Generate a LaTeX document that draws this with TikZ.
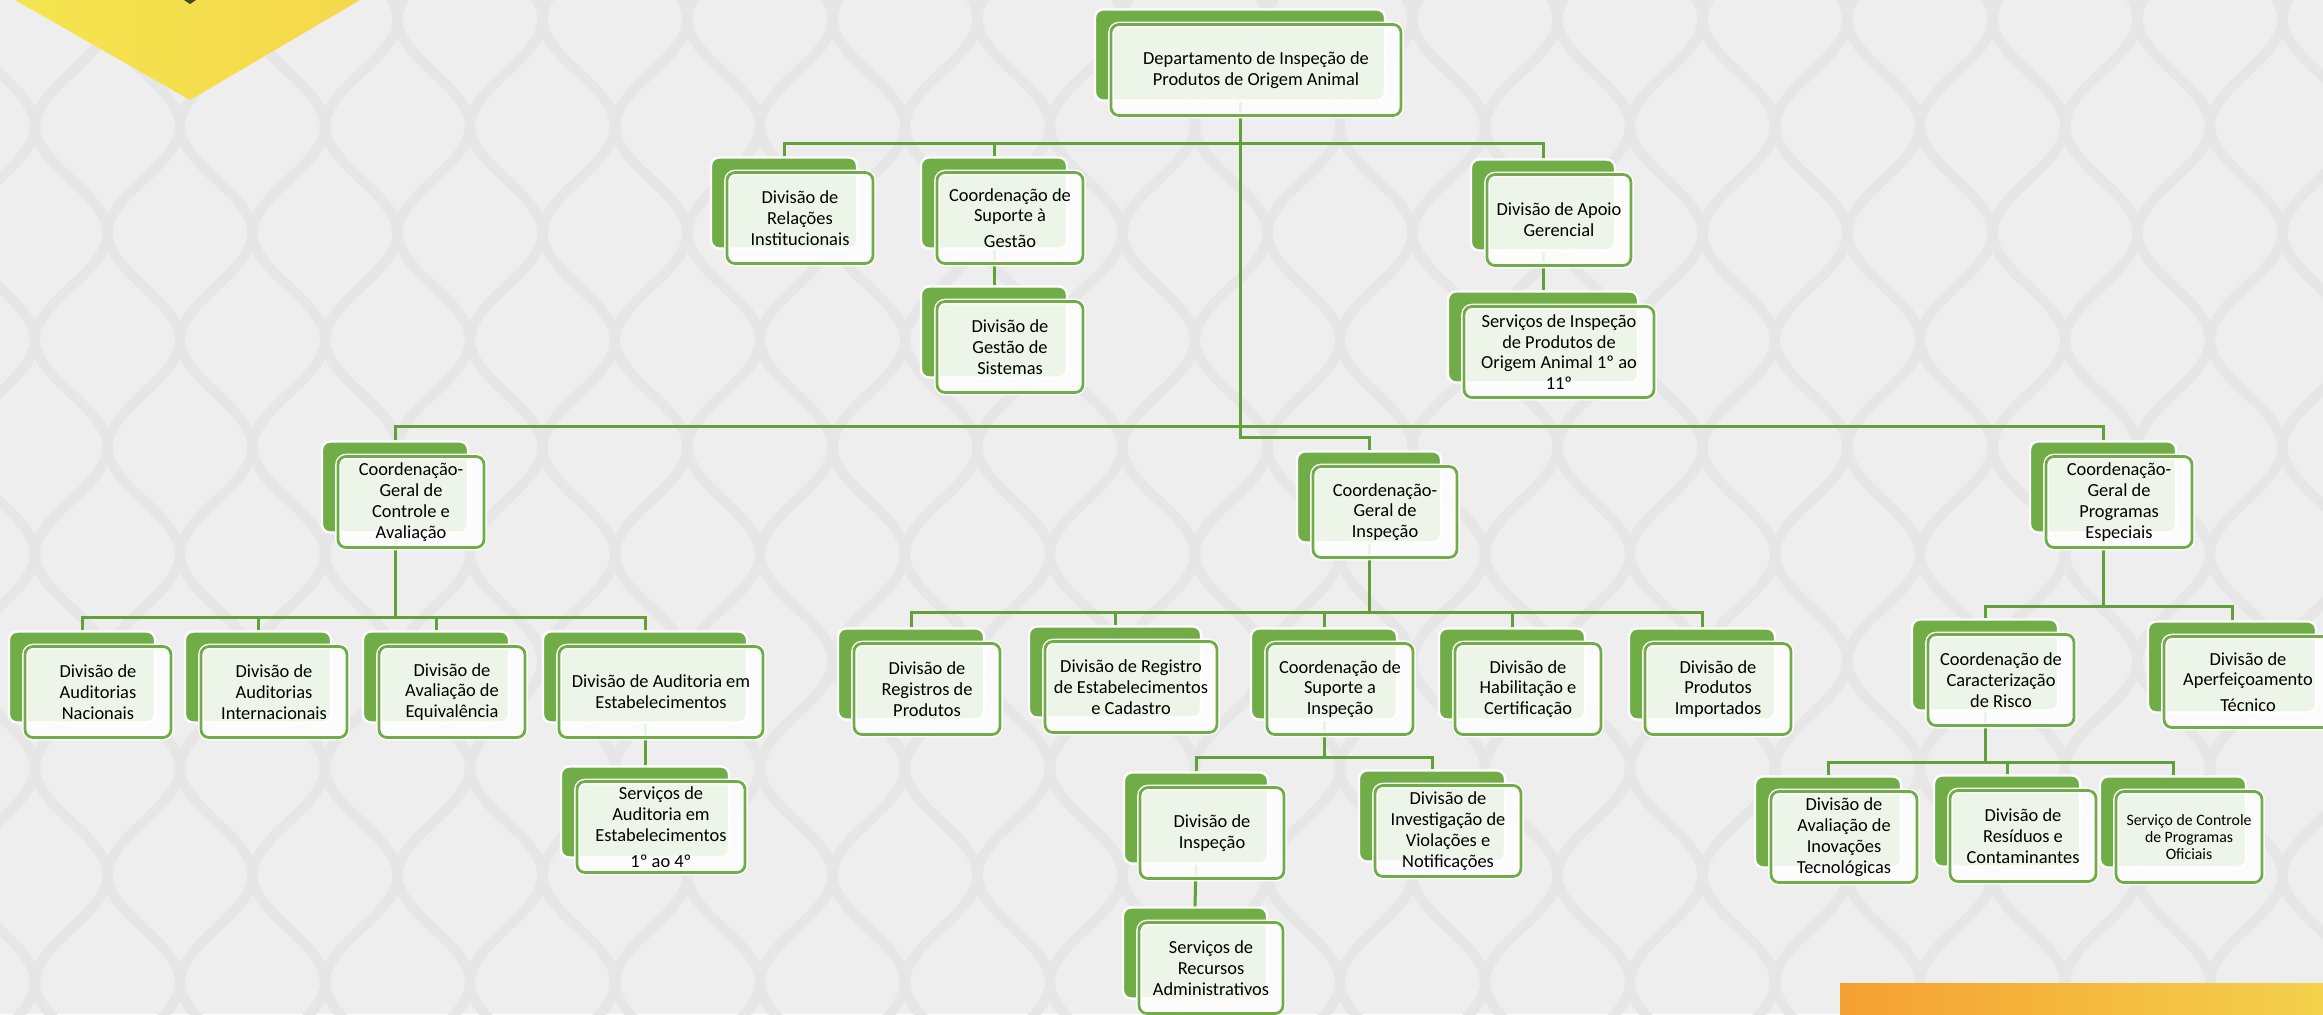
\documentclass[tikz,border=0pt]{standalone}
\usepackage{fontspec}
\setmainfont{Carlito}
\usepackage{tikz}

\definecolor{cardgreen}{HTML}{70AD47}
\definecolor{linkgreen}{HTML}{62A03A}
\definecolor{bggray}{HTML}{EEEEEE}
\definecolor{patgray}{HTML}{E6E6E6}
\definecolor{yellowA}{HTML}{F4E54E}
\definecolor{yellowB}{HTML}{F5D84C}
\definecolor{orangeA}{HTML}{F5A032}
\definecolor{orangeB}{HTML}{F4D24C}
\definecolor{logodark}{HTML}{3E4A18}

\begin{document}
\begin{tikzpicture}[x=0.5pt, y=-0.5pt]
\tikzset{
  back/.style={fill=cardgreen, draw=white, line width=1.2pt, rounded corners=4pt,
    minimum width=73pt, minimum height=45.5pt, inner sep=0pt},
  card/.style={draw=cardgreen, line width=1.4pt, rounded corners=4pt,
    fill=white, fill opacity=0.88, text opacity=1,
    preaction={draw=white, line width=2.8pt},
    minimum width=73pt, minimum height=45.5pt, inner sep=1pt, align=center,
    font=\fontsize{9.2}{10.4}\selectfont, text=black},
  small/.style={font=\fontsize{7.9}{8.7}\selectfont},
  link/.style={draw=linkgreen, line width=1.5pt},
  ogee/.style={draw=patgray, line width=5pt},
}

\useasboundingbox (0,0) rectangle (2323,1014);

% background
\begin{scope}
\clip (0,0) rectangle (2323,1014);
\fill [bggray] (0,0) rectangle (2323,1014);
\foreach \k in {-1,...,16} {
  \draw [ogee] plot [smooth, domain=-40:1060, samples=61, variable=\t]
    ({35+\k*145+36.25*(1+cos((\t-19)*1.6822))}, \t);
  \draw [ogee] plot [smooth, domain=-40:1060, samples=61, variable=\t]
    ({35+\k*145-36.25*(1+cos((\t-19)*1.6822))}, \t);
}
\shade [left color=yellowA, right color=yellowB] (15,0) -- (190,100) -- (360,0) -- cycle;
\fill [logodark] (184,0) -- (190,4) -- (196,0) -- cycle;
\shade [left color=orangeA, right color=orangeB] (1840,983) rectangle (2330,1020);
\end{scope}

% green backs
\node [back, minimum width=145pt] (dipoa-b) at (1240, 55) {};
\node [back] (drin-b) at ( 784,203) {};
\node [back] (csg-b)  at ( 994,203) {};
\node [back] (dgs-b)  at ( 994,332) {};
\node [back, minimum width=72pt] (dag-b) at (1543,205) {};
\node [back, minimum width=95pt] (sipoa-b) at (1543,337) {};

\node [back] (cgca-b) at ( 395,487) {};
\node [back, minimum width=72pt] (cgi-b) at (1369,497) {};
\node [back] (cgpe-b) at (2103,487) {};

\node [back] (dan-b)  at (  82,677) {};
\node [back] (dai-b)  at ( 258,677) {};
\node [back] (daeq-b) at ( 436,677) {};
\node [back, minimum width=102pt] (daue-b) at (645,677) {};
\node [back, minimum width=84pt] (saue-b) at (645,812) {};

\node [back] (drp-b)  at ( 911,674) {};
\node [back, minimum width=86pt] (drec-b) at (1115,672) {};
\node [back] (csi-b)  at (1324,674) {};
\node [back] (dhc-b)  at (1512,674) {};
\node [back] (dpi-b)  at (1702,674) {};
\node [back, minimum width=72pt] (dins-b) at (1196,818) {};
\node [back] (divn-b) at (1432,816) {};
\node [back, minimum width=72pt] (sra-b) at (1195,953) {};

\node [back] (ccr-b)  at (1985,665) {};
\node [back, minimum width=84pt] (dat-b) at (2232,667) {};
\node [back] (dait-b) at (1828,822) {};
\node [back] (drc-b)  at (2007,821) {};
\node [back] (scpo-b) at (2173,822) {};

% bus levels
\coordinate (bus1)  at (0,143);
\coordinate (bus2)  at (0,426);
\coordinate (bus2i) at (0,437);
\coordinate (bus3a) at (0,617);
\coordinate (bus3b) at (0,612);
\coordinate (bus3c) at (0,606);
\coordinate (bus4a) at (0,757);
\coordinate (bus4b) at (0,762);

% connectors
\draw [link] (dipoa-b.south) -- (dipoa-b.south |- bus1) -| (drin-b.north);
\draw [link] (dipoa-b.south) -- (dipoa-b.south |- bus1) -| (csg-b.north);
\draw [link] (dipoa-b.south) -- (dipoa-b.south |- bus1) -| (dag-b.north);
\draw [link] (csg-b.south) -- (dgs-b.north);
\draw [link] (dag-b.south) -- (sipoa-b.north);

\draw [link] (dipoa-b.south) -- (dipoa-b.south |- bus2) -| (cgca-b.north);
\draw [link] (dipoa-b.south) -- (dipoa-b.south |- bus2) -| (cgpe-b.north);
\draw [link] (dipoa-b.south) -- (dipoa-b.south |- bus2i) -| (cgi-b.north);

\draw [link] (cgca-b.south) -- (cgca-b.south |- bus3a) -| (dan-b.north);
\draw [link] (cgca-b.south) -- (cgca-b.south |- bus3a) -| (dai-b.north);
\draw [link] (cgca-b.south) -- (cgca-b.south |- bus3a) -| (daeq-b.north);
\draw [link] (cgca-b.south) -- (cgca-b.south |- bus3a) -| (daue-b.north);
\draw [link] (daue-b.south) -- (saue-b.north);

\draw [link] (cgi-b.south) -- (cgi-b.south |- bus3b) -| (drp-b.north);
\draw [link] (cgi-b.south) -- (cgi-b.south |- bus3b) -| (drec-b.north);
\draw [link] (cgi-b.south) -- (cgi-b.south |- bus3b) -| (csi-b.north);
\draw [link] (cgi-b.south) -- (cgi-b.south |- bus3b) -| (dhc-b.north);
\draw [link] (cgi-b.south) -- (cgi-b.south |- bus3b) -| (dpi-b.north);
\draw [link] (csi-b.south) -- (csi-b.south |- bus4a) -| (dins-b.north);
\draw [link] (csi-b.south) -- (csi-b.south |- bus4a) -| (divn-b.north);
\draw [link] (dins-b.south) -- (sra-b.north);

\draw [link] (cgpe-b.south) -- (cgpe-b.south |- bus3c) -| (ccr-b.north);
\draw [link] (cgpe-b.south) -- (cgpe-b.south |- bus3c) -| (dat-b.north);
\draw [link] (ccr-b.south) -- (ccr-b.south |- bus4b) -| (dait-b.north);
\draw [link] (ccr-b.south) -- (ccr-b.south |- bus4b) -| (drc-b.north);
\draw [link] (ccr-b.south) -- (ccr-b.south |- bus4b) -| (scpo-b.north);

% cards
\node [card, minimum width=145pt] (dipoa) at ([shift={(16,15)}]dipoa-b) {Departamento de Inspeção de\\Produtos de Origem Animal};
\node [card] (drin) at ([shift={(16,15)}]drin-b) {Divisão de\\Relações\\Institucionais};
\node [card] (csg)  at ([shift={(16,15)}]csg-b) {Coordenação de\\Suporte à\\[2.5pt]Gestão};
\node [card] (dgs)  at ([shift={(16,15)}]dgs-b) {Divisão de\\Gestão de\\Sistemas};
\node [card, minimum width=72pt] (dag) at ([shift={(16,15)}]dag-b) {Divisão de Apoio\\Gerencial};
\node [card, minimum width=95pt] (sipoa) at ([shift={(16,15)}]sipoa-b) {Serviços de Inspeção\\de Produtos de\\Origem Animal 1º ao\\11º};

\node [card] (cgca) at ([shift={(16,15)}]cgca-b) {Coordenação-\\Geral de\\Controle e\\Avaliação};
\node [card, minimum width=72pt] (cgi) at ([shift={(16,15)}]cgi-b) {Coordenação-\\Geral de\\Inspeção};
\node [card] (cgpe) at ([shift={(16,15)}]cgpe-b) {Coordenação-\\Geral de\\Programas\\Especiais};

\node [card] (dan)  at ([shift={(16,15)}]dan-b) {Divisão de\\Auditorias\\Nacionais};
\node [card] (dai)  at ([shift={(16,15)}]dai-b) {Divisão de\\Auditorias\\Internacionais};
\node [card] (daeq) at ([shift={(16,15)}]daeq-b) {Divisão de\\Avaliação de\\Equivalência};
\node [card, minimum width=102pt] (daue) at ([shift={(16,15)}]daue-b) {Divisão de Auditoria em\\Estabelecimentos};
\node [card, minimum width=84pt] (saue) at ([shift={(16,15)}]saue-b) {Serviços de\\Auditoria em\\Estabelecimentos\\[2.5pt]1º ao 4º};

\node [card] (drp)  at ([shift={(16,15)}]drp-b) {Divisão de\\Registros de\\Produtos};
\node [card, minimum width=86pt] (drec) at ([shift={(16,15)}]drec-b) {Divisão de Registro\\de Estabelecimentos\\e Cadastro};
\node [card] (csi)  at ([shift={(16,15)}]csi-b) {Coordenação de\\Suporte a\\Inspeção};
\node [card] (dhc)  at ([shift={(16,15)}]dhc-b) {Divisão de\\Habilitação e\\Certificação};
\node [card] (dpi)  at ([shift={(16,15)}]dpi-b) {Divisão de\\Produtos\\Importados};
\node [card, minimum width=72pt] (dins) at ([shift={(16,15)}]dins-b) {Divisão de\\Inspeção};
\node [card] (divn) at ([shift={(16,15)}]divn-b) {Divisão de\\Investigação de\\Violações e\\Notificações};
\node [card, minimum width=72pt] (sra) at ([shift={(16,15)}]sra-b) {Serviços de\\Recursos\\Administrativos};

\node [card] (ccr)  at ([shift={(16,15)}]ccr-b) {Coordenação de\\Caracterização\\de Risco};
\node [card, minimum width=84pt] (dat) at ([shift={(16,15)}]dat-b) {Divisão de\\Aperfeiçoamento\\[2.5pt]Técnico};
\node [card] (dait) at ([shift={(16,15)}]dait-b) {Divisão de\\Avaliação de\\Inovações\\Tecnológicas};
\node [card] (drc)  at ([shift={(16,15)}]drc-b) {Divisão de\\Resíduos e\\Contaminantes};
\node [card, small] (scpo) at ([shift={(16,15)}]scpo-b) {Serviço de Controle\\de Programas\\Oficiais};

\end{tikzpicture}
\end{document}
